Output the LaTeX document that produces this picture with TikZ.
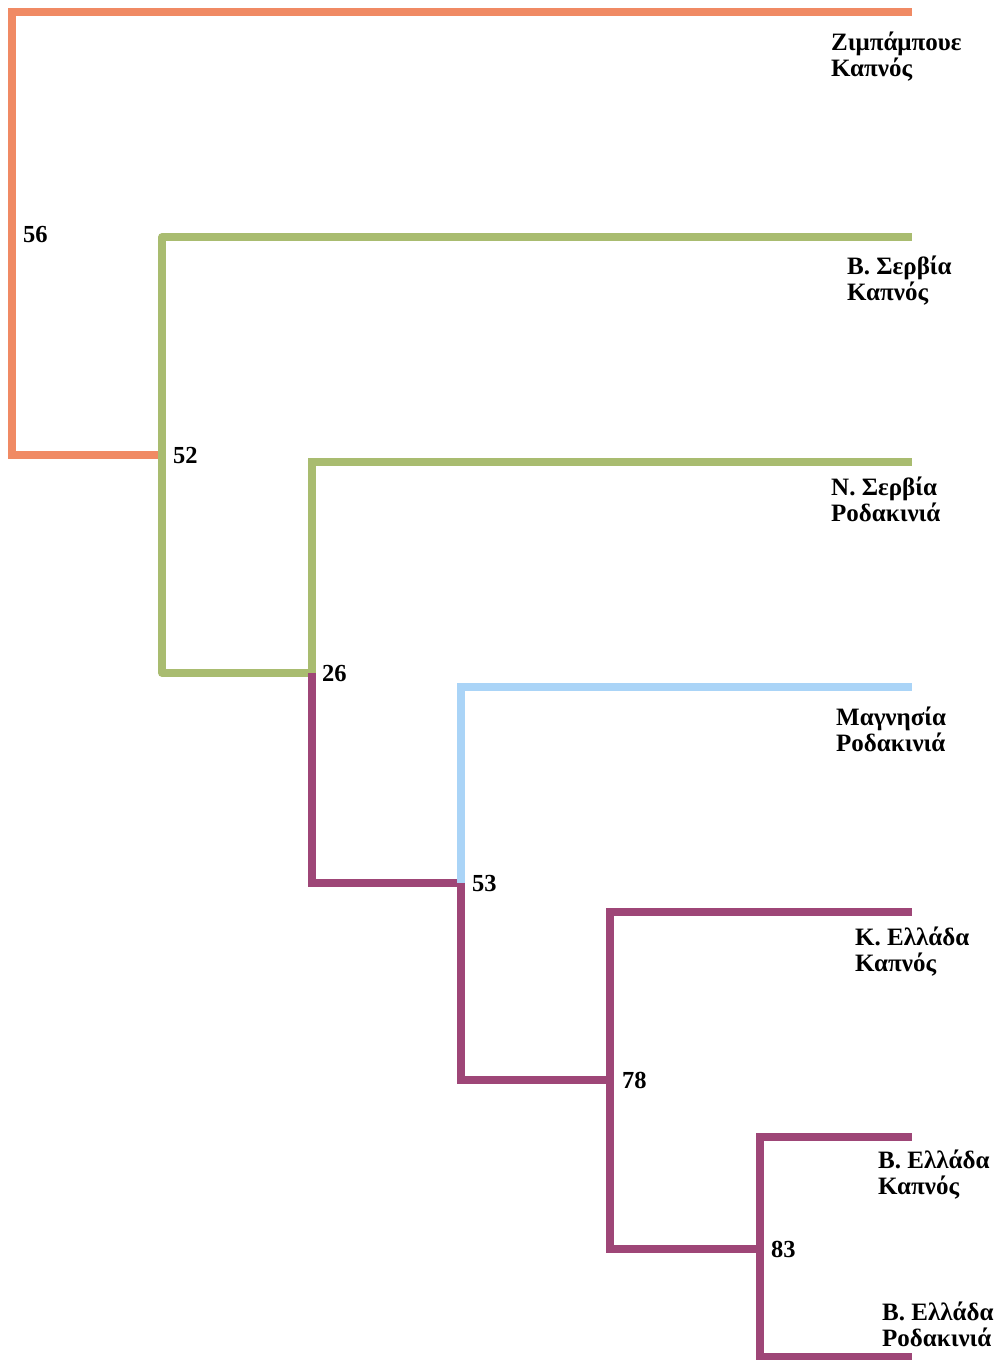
\documentclass[tikz,border=0pt]{standalone}
\usepackage{fontspec}
\setmainfont{Liberation Serif}
\definecolor{corange}{HTML}{F08A64}
\definecolor{cgreen}{HTML}{A9BC70}
\definecolor{cblue}{HTML}{AAD4F7}
\definecolor{cpurple}{HTML}{9E4677}
\begin{document}
\begin{tikzpicture}[x=1pt,y=-1pt,
  branch/.style={line width=7.5pt},
  numlbl/.style={anchor=base west,inner sep=0pt,font=\bfseries\fontsize{24.5}{26}\selectfont},
  leaflbl/.style={anchor=base west,inner sep=0pt,align=left,font=\bfseries\fontsize{25}{26}\selectfont}]
\useasboundingbox (0,0) rectangle (996,1360);
% leaf ends
\coordinate (leaf1) at (912,12);
\coordinate (leaf2) at (912,237);
\coordinate (leaf3) at (912,462);
\coordinate (leaf4) at (912,687);
\coordinate (leaf5) at (912,912);
\coordinate (leaf6) at (912,1137);
\coordinate (leaf7) at (912,1357);
% junctions
\coordinate (root) at (12,455);
\coordinate (n52) at (162,455);
\coordinate (n26) at (312,673);
\coordinate (n53) at (461,883);
\coordinate (n78) at (610,1080);
\coordinate (n83) at (760,1249);
% branches
\draw[branch,corange] (n52) -- (root) |- (leaf1);
\draw[branch,cgreen,line join=round] (n52) |- (leaf2);
\draw[branch,cgreen,line join=round] (n52) |- (n26);
\draw[branch,cgreen] (n26) |- (leaf3);
\draw[branch,cpurple] (n26) |- (n53);
\draw[branch,cblue] (n53) |- (leaf4);
\draw[branch,cpurple] (n53) |- (n78);
\draw[branch,cpurple] (n78) |- (leaf5);
\draw[branch,cpurple] (n78) |- (n83);
\draw[branch,cpurple] (n83) |- (leaf6);
\draw[branch,cpurple] (n83) |- (leaf7);
% support values
\node[numlbl] (s56) at (23,242) {56};
\node[numlbl] (s52) at (173,463) {52};
\node[numlbl] (s26) at (322,681) {26};
\node[numlbl] (s53) at (472,891) {53};
\node[numlbl] (s78) at (622,1088) {78};
\node[numlbl] (s83) at (771,1257) {83};
% leaf labels (anchor at the baseline of the second line)
\node[leaflbl] (t1) at (831,76) {Ζιμπάμπουε\\Καπνός};
\node[leaflbl] (t2) at (847,300) {Β. Σερβία\\Καπνός};
\node[leaflbl] (t3) at (831,521) {Ν. Σερβία\\Ροδακινιά};
\node[leaflbl] (t4) at (836,751) {Μαγνησία\\Ροδακινιά};
\node[leaflbl] (t5) at (855,971) {Κ. Ελλάδα\\Καπνός};
\node[leaflbl] (t6) at (878,1194) {Β. Ελλάδα\\Καπνός};
\node[leaflbl] (t7) at (882,1346) {Β. Ελλάδα\\Ροδακινιά};
\end{tikzpicture}
\end{document}
